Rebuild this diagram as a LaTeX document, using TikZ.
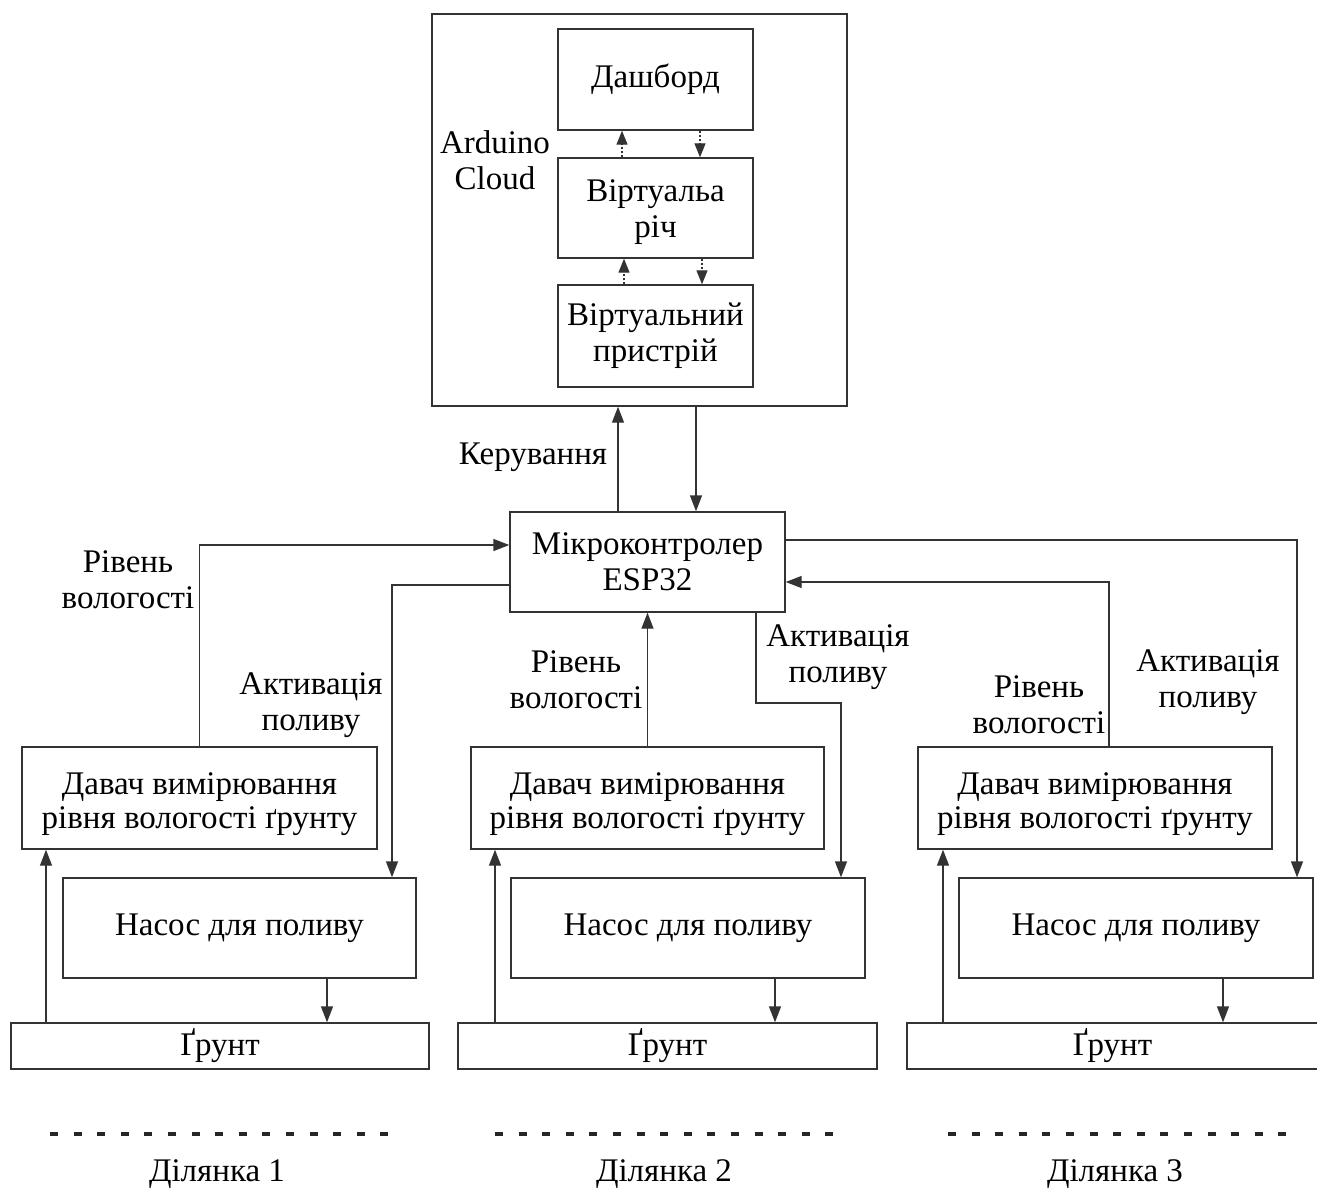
\documentclass[tikz,border=0pt]{standalone}
\usepackage{fontspec}
\setmainfont{Liberation Serif}
\usetikzlibrary{arrows.meta}
\begin{document}
\begin{tikzpicture}[x=1pt,y=-1pt,
  every node/.style={font=\fontsize{33}{36}\selectfont, text=black},
  box/.style={draw=black!80, line width=1.4pt, inner sep=0pt, align=center},
  lbl/.style={align=center, inner sep=0pt},
  stxt/.style={align=center, inner sep=0pt, font=\fontsize{33}{34}\selectfont},
  arr/.style={draw=black!80, line width=1.4pt, -{Triangle[length=16pt,width=12pt]}},
  darr/.style={draw=black!80, line width=1.2pt, dash pattern=on 2pt off 2pt, -{Triangle[length=14pt,width=11pt]}},
  sep/.style={draw=black!85, line width=4pt, dash pattern=on 8pt off 15.6pt}
]
\useasboundingbox (0,0) rectangle (1317,1192);
\fill[white] (0,0) rectangle (1317,1192);

% Cloud
\node[box, minimum width=415pt, minimum height=392pt] (cloud) at (639.5,210) {};
\node[box, minimum width=195pt, minimum height=101pt] (dash) at (655.5,79.5) {Дашборд};
\node[box, minimum width=195pt, minimum height=100pt] (thing) at (655.5,208) {};
\node[lbl] (thingt) at (655.5,212) {Віртуальа\\ річ};
\node[box, minimum width=195pt, minimum height=102pt] (dev) at (655.5,336) {Віртуальний\\ пристрій};
\node[lbl] (cl) at (495,160) {Arduino\\ Cloud};

\draw[darr] ([xshift=-33.5pt]thing.north) -- ([xshift=-33.5pt]dash.south);
\draw[darr] ([xshift=44.5pt]dash.south) -- ([xshift=44.5pt]thing.north);
\draw[darr] ([xshift=-31.5pt]dev.north) -- ([xshift=-31.5pt]thing.south);
\draw[darr] ([xshift=46.5pt]thing.south) -- ([xshift=46.5pt]dev.north);

% Microcontroller
\node[box, minimum width=275pt, minimum height=100pt] (mc) at (647.5,562) {Мікроконтролер\\ ESP32};
\draw[arr] ([xshift=-29.5pt]mc.north) -- ([xshift=-21.5pt]cloud.south);
\draw[arr] ([xshift=56.5pt]cloud.south) -- ([xshift=48.5pt]mc.north);
\node[lbl] (ker) at (533,457) {Керування};

% Section 1
\node[box, minimum width=355pt, minimum height=102pt] (s1) at (199.5,798) {};
\node[stxt] (s1t) at (199.5,804.5) {Давач вимірювання\\ рівня вологості ґрунту};
\node[box, minimum width=353pt, minimum height=100pt] (p1) at (239.5,928) {Насос для поливу};
\node[box, minimum width=418pt, minimum height=46pt] (g1) at (220,1046) {Ґрунт};
\draw[arr] (s1.north) |- ([yshift=17pt]mc.west);
\draw[arr] ([yshift=-23pt]mc.west) -| ([xshift=152.5pt]p1.north);
\draw[arr] ([xshift=-174pt]g1.north) -- ([xshift=-153.5pt]s1.south);
\draw[arr] ([xshift=87.5pt]p1.south) -- ([xshift=107pt]g1.north);
\node[lbl] (r1) at (128,580) {Рівень\\ вологості};
\node[lbl] (a1) at (311,705) {Активація\\ поливу};

% Section 2
\node[box, minimum width=353pt, minimum height=102pt] (s2) at (647.5,798) {};
\node[stxt] (s2t) at (647.5,804.5) {Давач вимірювання\\ рівня вологості ґрунту};
\node[box, minimum width=354pt, minimum height=100pt] (p2) at (688,928) {Насос для поливу};
\node[box, minimum width=419pt, minimum height=46pt] (g2) at (667.5,1046) {Ґрунт};
\draw[arr] (s2.north) -- (mc.south);
\coordinate (k2) at (756,703);
\draw[arr] (k2 |- mc.south) -- (k2) -| ([xshift=153pt]p2.north);
\draw[arr] ([xshift=-172.5pt]g2.north) -- ([xshift=-152.5pt]s2.south);
\draw[arr] ([xshift=87pt]p2.south) -- ([xshift=107.5pt]g2.north);
\node[lbl] (r2) at (576,680) {Рівень\\ вологості};
\node[lbl] (a2) at (838,657) {Активація\\ поливу};

% Section 3
\node[box, minimum width=354pt, minimum height=102pt] (s3) at (1095,798) {};
\node[stxt] (s3t) at (1095,804.5) {Давач вимірювання\\ рівня вологості ґрунту};
\node[box, minimum width=354pt, minimum height=100pt] (p3) at (1136,928) {Насос для поливу};
\node[box, minimum width=411pt, minimum height=46pt] (g3) at (1112.5,1046) {Ґрунт};
\draw[arr] ([xshift=14pt]s3.north) |- ([yshift=-20pt]mc.east);
\draw[arr] ([yshift=22pt]mc.east) -| ([xshift=161pt]p3.north);
\draw[arr] ([xshift=-169.5pt]g3.north) -- ([xshift=-152pt]s3.south);
\draw[arr] ([xshift=87pt]p3.south) -- ([xshift=110.5pt]g3.north);
\node[lbl] (r3) at (1039,705) {Рівень\\ вологості};
\node[lbl] (a3) at (1208,682) {Активація\\ поливу};

% Separators and section labels
\draw[sep] (50,1134) -- (390,1134);
\draw[sep] (495,1134) -- (835,1134);
\draw[sep] (948,1134) -- (1288,1134);
\node[lbl] (d1) at (217,1174) {Ділянка 1};
\node[lbl] (d2) at (664,1174) {Ділянка 2};
\node[lbl] (d3) at (1115,1174) {Ділянка 3};
\end{tikzpicture}
\end{document}
